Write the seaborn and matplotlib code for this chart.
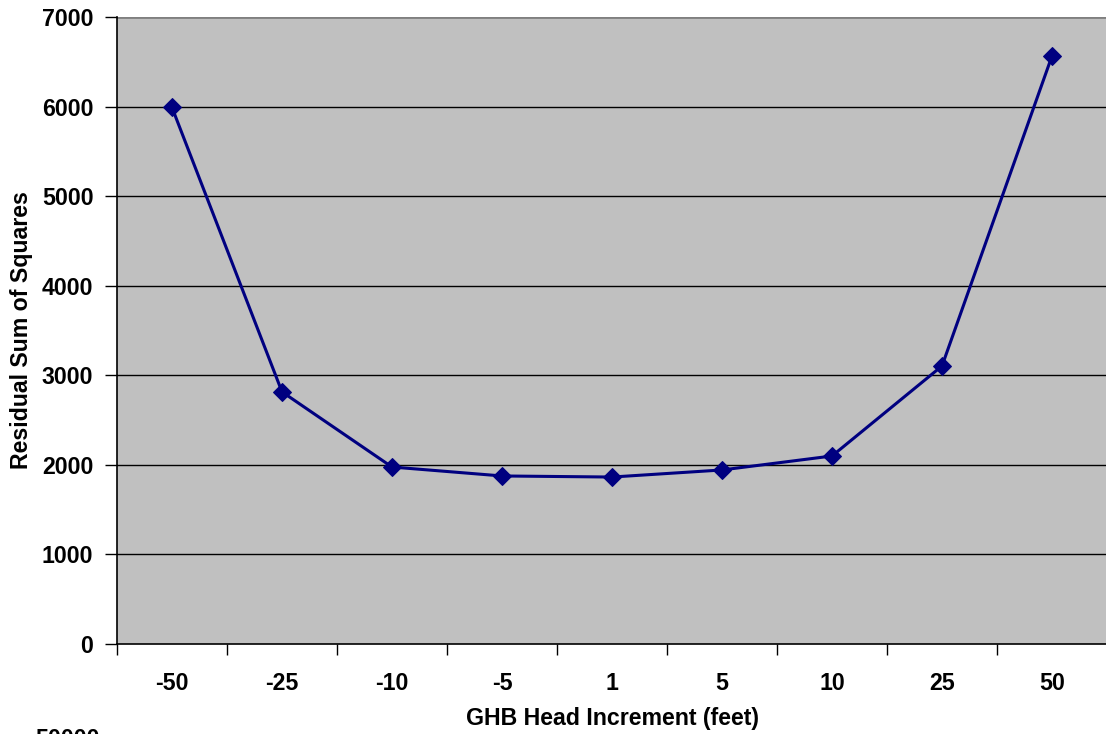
import matplotlib
matplotlib.use("Agg")
import matplotlib.pyplot as plt
import seaborn as sns
import pandas as pd
import numpy as np
from matplotlib.ticker import FixedLocator

categories = ["-50", "-25", "-10", "-5", "1", "5", "10", "25", "50"]
rss = [5990, 2815, 1976, 1876, 1864, 1943, 2099, 3104, 6565]
y_ticks = [0, 1000, 2000, 3000, 4000, 5000, 6000, 7000]

sns.set_theme(style="white")
plt.rcParams["font.family"] = ["Liberation Sans", "DejaVu Sans"]
plt.rcParams["text.color"] = "black"
plt.rcParams["axes.labelcolor"] = "black"
plt.rcParams["xtick.color"] = "black"
plt.rcParams["ytick.color"] = "black"

FS = 16.7
W, H = 1106, 734
fig = plt.figure(figsize=(W / 100, H / 100), dpi=100)
ax = fig.add_axes([117 / W, (H - 644) / H, 990 / W, 627 / H])
ax.set_facecolor("#C0C0C0")

df = pd.DataFrame({"inc": categories, "rss": rss})
sns.lineplot(data=df, x="inc", y="rss", ax=ax, color="#000080", linewidth=2.2,
             marker="D", markersize=9, markeredgecolor="#000080", sort=False)

ax.set_xlim(-0.5, len(categories) - 0.5)
ax.set_ylim(0, 7000)
ax.set_yticks(y_ticks)
ax.set_yticklabels([str(v) for v in y_ticks])
ax.set_xticks(range(len(categories)))
ax.set_xticklabels(categories)
ax.xaxis.set_minor_locator(FixedLocator(np.arange(-0.5, len(categories), 1.0)))

ax.grid(False)
for v in y_ticks[1:-1]:
    ax.axhline(v, color="black", linewidth=1.0, zorder=0.5)
ax.axhline(y_ticks[-1], color="#808080", linewidth=2.0, zorder=0.5)
ax.set_axisbelow(True)

for s in ["top", "right"]:
    ax.spines[s].set_visible(False)
ax.spines["left"].set_color("black")
ax.spines["bottom"].set_color("black")
ax.spines["left"].set_linewidth(1.2)
ax.spines["bottom"].set_linewidth(1.2)

ax.tick_params(axis="y", which="major", direction="out", length=9, width=1.0,
               color="black", left=True, pad=8, labelsize=FS, labelcolor="black")
ax.tick_params(axis="x", which="major", length=0, pad=20, labelsize=FS, labelcolor="black")
ax.tick_params(axis="x", which="minor", direction="out", length=8, width=1.0,
               color="black", bottom=True)
for lbl in ax.get_xticklabels() + ax.get_yticklabels():
    lbl.set_fontweight("bold")

ax.set_xlabel("GHB Head Increment (feet)", fontsize=FS, fontweight="bold", va="center", color="black")
ax.set_ylabel("Residual Sum of Squares", fontsize=FS, fontweight="bold", va="center", color="black")
ax.xaxis.set_label_coords(0.5, (644 - 718) / 627)
ax.yaxis.set_label_coords((22 - 117) / 990, 0.5)

fig.text(35 / W, (H - 746) / H, "50000", fontsize=FS, fontweight="bold",
         ha="left", va="baseline", color="black")

fig.savefig("out.png", dpi=100)
